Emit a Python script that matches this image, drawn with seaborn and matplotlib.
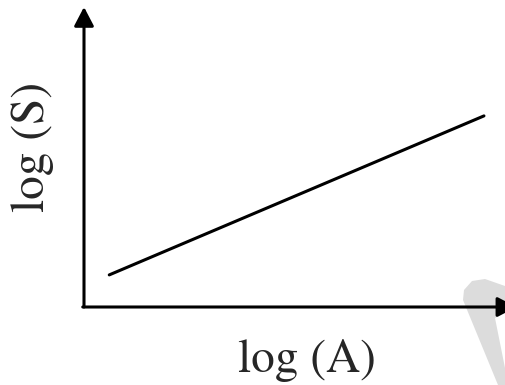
import matplotlib
matplotlib.use("Agg")
import matplotlib.pyplot as plt
import seaborn as sns
import pandas as pd
from matplotlib.patches import Polygon

# data (axes-fraction units of the schematic)
log_A = [0.06, 0.95]
log_S = [0.107, 0.637]
x_label = "log (A)"
y_label = "log (S)"

sns.set_style("white")
fam = "STIXGeneral"
plt.rcParams["font.family"] = [fam, "DejaVu Serif"]

W, H = 505, 385
fig = plt.figure(figsize=(W / 100, H / 100), dpi=100)
left, bottom, right, top = 84, 307, 505, 7
ax = fig.add_axes([left / W, (H - bottom) / H, (right - left) / W, (bottom - top) / H])
ax.patch.set_visible(False)

df = pd.DataFrame({"A": log_A, "S": log_S})
sns.lineplot(data=df, x="A", y="S", ax=ax, color="black", lw=2.2)
ax.set_xlim(0, 1)
ax.set_ylim(0, 1)
for s in ax.spines.values():
    s.set_visible(False)
ax.set_xticks([])
ax.set_yticks([])

arrow = dict(arrowstyle="-|>,head_length=1.15,head_width=0.6", mutation_scale=10,
             lw=2.2, color="black", shrinkA=0, shrinkB=0)
ax.annotate("", xy=(0, 1.0), xytext=(0, 0), xycoords="axes fraction",
            arrowprops=arrow, annotation_clip=False)
ax.annotate("", xy=(1.027, 0), xytext=(-0.003, 0), xycoords="axes fraction",
            arrowprops=arrow, annotation_clip=False)

ax.set_xlabel(x_label, fontsize=34, fontfamily=fam)
ax.set_ylabel(y_label, fontsize=34, fontfamily=fam)
ax.xaxis.label.set_verticalalignment("center")
ax.yaxis.label.set_verticalalignment("center")
ax.xaxis.set_label_coords(0.53, -0.177)
ax.yaxis.set_label_coords(-0.121, 0.533)

# light watermark in the lower-right corner
pts = [(498, 385), (505, 385), (505, 368), (495, 318), (505, 313), (505, 286),
       (485, 279), (472, 281), (464, 290), (463, 300)]
wm = Polygon([(x / W, 1 - y / H) for x, y in pts], closed=True,
             transform=fig.transFigure, facecolor="#dcdcdc", edgecolor="none", zorder=-1)
fig.patches.append(wm)

fig.savefig("out.png", dpi=100)
